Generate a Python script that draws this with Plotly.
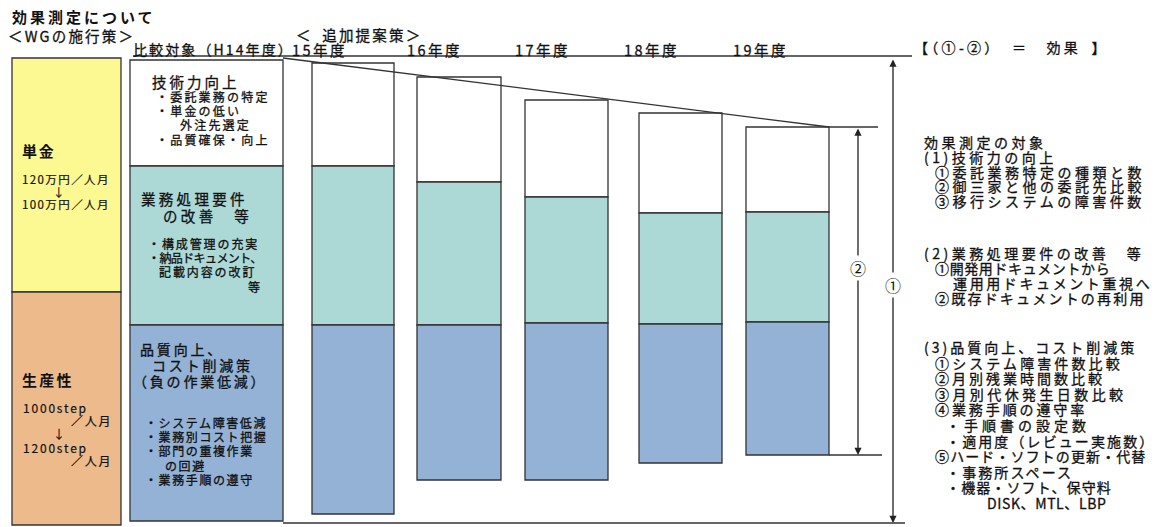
import numpy as np
import plotly.graph_objects as go

FONT = "Noto Sans CJK JP"
INK = "#111111"

# ---------------- data ----------------
wg_labels = ["単金", "生産性"]
wg_values = [234, 233]

periods = ["比較対象（H14年度）", "15年度", "16年度", "17年度", "18年度", "19年度"]
top_gap = [2, 5, 19, 42, 55, 69]
seg_tech = [106, 103, 105, 97, 100, 85]      # 技術力向上
seg_req = [159, 159, 143, 126, 111, 110]     # 業務処理要件の改善
seg_cost = [196, 189, 155, 157, 139, 133]    # 品質向上、コスト削減策

# ---------------- layout geometry ----------------
Y0 = 58                      # pixel row of value 0
W, H = 1162, 527
wg_x, wg_w = 66.5, 109
period_x = [206.5, 353, 459, 566.5, 680.5, 787.5]
period_w = [153, 82, 84, 83, 83, 83]

top = np.array(top_gap, float)
b_tech = top
b_req = b_tech + np.array(seg_tech)
b_cost = b_req + np.array(seg_req)
bottom = b_cost + np.array(seg_cost)

line = dict(color="#333333", width=1.3)
fig = go.Figure()
fig.add_bar(x=[wg_x], y=[wg_values[0]], base=[0], width=[wg_w],
            marker=dict(color="#FCF892", line=line), name=wg_labels[0])
fig.add_bar(x=[wg_x], y=[wg_values[1]], base=[wg_values[0]], width=[wg_w],
            marker=dict(color="#EDBA8C", line=line), name=wg_labels[1])
fig.add_bar(x=period_x, y=seg_tech, base=b_tech, width=period_w,
            marker=dict(color="#FFFFFF", line=line), name="技術力向上")
fig.add_bar(x=period_x, y=seg_req, base=b_req, width=period_w,
            marker=dict(color="#ACD8D6", line=line), name="業務処理要件の改善")
fig.add_bar(x=period_x, y=seg_cost, base=b_cost, width=period_w,
            marker=dict(color="#93B2D5", line=line), name="品質向上、コスト削減策")

def px(v):
    return v - Y0

ref_right = period_x[0] + period_w[0] / 2
last_right = period_x[-1] + period_w[-1] / 2
shapes = [
    dict(type="line", x0=133, x1=912, y0=px(56), y1=px(56), line=line),
    dict(type="line", x0=ref_right, x1=last_right, y0=top[0] - 2, y1=top[-1], line=line),
    dict(type="line", x0=ref_right, x1=905, y0=px(523), y1=px(523), line=line),
    dict(type="line", x0=last_right, x1=878, y0=top[-1], y1=top[-1], line=line),
    dict(type="line", x0=last_right, x1=882, y0=bottom[-1], y1=bottom[-1], line=line),
]
for s in shapes:
    s.update(xref="x", yref="y", layer="above")

ann = []
NB = "\u00a0"

def block(lines, x, y_first, pitch, size, ls=0.0, bold=False, stroke=0.3):
    """One annotation; lines are str or (indent_px, str[, ls]).
    First-line ink centre lands on pixel row y_first."""
    parts = []
    for ln in lines:
        if isinstance(ln, str):
            ln = (0, ln)
        ind, t = ln[0], ln[1]
        l_ls = ln[2] if len(ln) > 2 else ls
        st = f"font-size:{size}px;letter-spacing:{l_ls}px"
        if stroke:
            st += f";stroke:{INK};stroke-width:{stroke}px"
        inner = f"<b>{t}</b>" if bold else t
        pre = ""
        if ind:
            pre = (f"<span style='font-size:{size}px;letter-spacing:"
                   f"{ind - 0.224 * size:.1f}px'>{NB}</span>")
        parts.append(f"{pre}<span style='{st}'>{inner}</span>")
    ann.append(dict(text="<br>".join(parts), x=x, y=px(y_first - 0.78 * size - 1),
                    xref="x", yref="y", xanchor="left", yanchor="top", align="left",
                    showarrow=False,
                    font=dict(family=FONT, size=pitch / 1.3, color=INK)))

# arrows
def arrow(x, y_from, y_to):
    ann.append(dict(x=x, y=y_to, ax=x, ay=y_from, xref="x", yref="y", axref="x", ayref="y",
                    text="", showarrow=True, arrowhead=2, arrowside="end+start",
                    arrowsize=1.1, arrowwidth=1.3, arrowcolor="#222222"))
arrow(893, px(58), px(523))
arrow(858, top[-1], bottom[-1])
for lbl, x, y in [("①", 893, 285), ("②", 858, 268)]:
    ann.append(dict(text=lbl, x=x, y=px(y), xref="x", yref="y", showarrow=False,
                    bgcolor="white", borderpad=0, font=dict(family=FONT, size=16, color=INK)))

# headers
block(["効果測定について"], 10, 17, 20, 15, 3, bold=True, stroke=0)
block(["＜WGの施行策＞"], 6, 35, 20, 14.5, 2.2)
block([(3, "＜\u2002追加提案策＞")], 291, 34, 20, 14.5, 2.2)
block([periods[0]], 131, 49, 20, 14, 2.1)
for lbl, x in zip(periods[1:], [290, 405, 513, 622, 731]):
    block([lbl], x, 49, 20, 14.5, 2.5)
block(["【（①-②）\u2002＝\u3000効果\u2002】"], 912, 47, 20, 14, 3.3)

# left column
block(["単金"], 20, 151, 20, 15, 1.8, bold=True, stroke=0)
block(["120万円／人月", (31, "↓"), "100万円／人月"], 20, 179, 12.5, 11.5, 1.4, stroke=0.2)
block(["生産性"], 20, 380, 20, 15, 2.3, bold=True, stroke=0)
block(["1000step", (48, "／人月"), (30, "↓"), "1200step", (48, "／人月")],
      21, 407, 13.2, 12, 1.8, stroke=0.2)

# middle column
block(["技術力向上"], 150, 81, 20, 14.5, 3)
block(["・委託業務の特定", "・単金の低い", (24, "外注先選定"), "・品質確保・向上"],
      154, 96, 14.2, 12, 2.2)
block(["業務処理要件", (22, "の改善\u3000等")], 139, 198, 16.5, 14.5, 3.3)
block(["・構成管理の充実", (0, "・納品ドキュメント、", -0.6), (11, "記載内容の改訂"),
       (100, "等")], 146, 243, 14.2, 12, 1.9)
block([(7, "品質向上、"), (19, "コスト削減策"), "（負の作業低減）"], 131, 349, 16, 14, 2.8)
block(["・システム障害低減", "・業務別コスト把握", "・部門の重複作業",
       (20, "の回避"), "・業務手順の遵守"], 143, 422, 14.2, 12, 1.6)

# right block
RS, RL = 14, 3.5
I1, IB = 11, 22
block(["効果測定の対象", "(1)技術力の向上", (I1, "①委託業務特定の種類と数"),
       (I1, "②御三家と他の委託先比較"), (I1, "③移行システムの障害件数")],
      922, 142, 14.8, RS, RL)
block(["(2)業務処理要件の改善\u3000等", (I1, "①開発用ドキュメントから", 0.6),
       (29, "運用用ドキュメント重視へ", 2.6), (I1, "②既存ドキュメントの再利用", 2.2)],
      922, 253, 15, RS, RL)
block([(0, "(3)品質向上、コスト削減策", 3.0),
       (I1, "①システム障害件数比較", 3.1),
       (I1, "②月別残業時間数比較", 3.0),
       (I1, "③月別代休発生日数比較", 3.4),
       (I1, "④業務手順の遵守率", 2.9),
       (IB, "・手順書の設定数", 4.0),
       (IB, "・適用度（レビュー実施数）", 2.1),
       (I1, "⑤ハード・ソフトの更新・代替", 1.1),
       (IB, "・事務所スペース", 2.1),
       (IB, "・機器・ソフト、保守料", 1.1),
       (63, "DISK、MTL、LBP", 0.6)], 922, 347, 15.6, RS, RL)

fig.update_layout(
    width=W, height=H, autosize=False,
    barmode="overlay", showlegend=False, bargap=0,
    margin=dict(l=0, r=0, t=0, b=0),
    paper_bgcolor="white", plot_bgcolor="white",
    xaxis=dict(range=[0, W], visible=False, fixedrange=True),
    yaxis=dict(range=[H - Y0, -Y0], visible=False, fixedrange=True),
    shapes=shapes, annotations=ann,
    font=dict(family=FONT),
)
fig.write_html(
    "out.html",
    config={"displayModeBar": False, "staticPlot": True},
    post_script="document.body.style.margin='0';document.body.style.overflow='hidden';",
)
